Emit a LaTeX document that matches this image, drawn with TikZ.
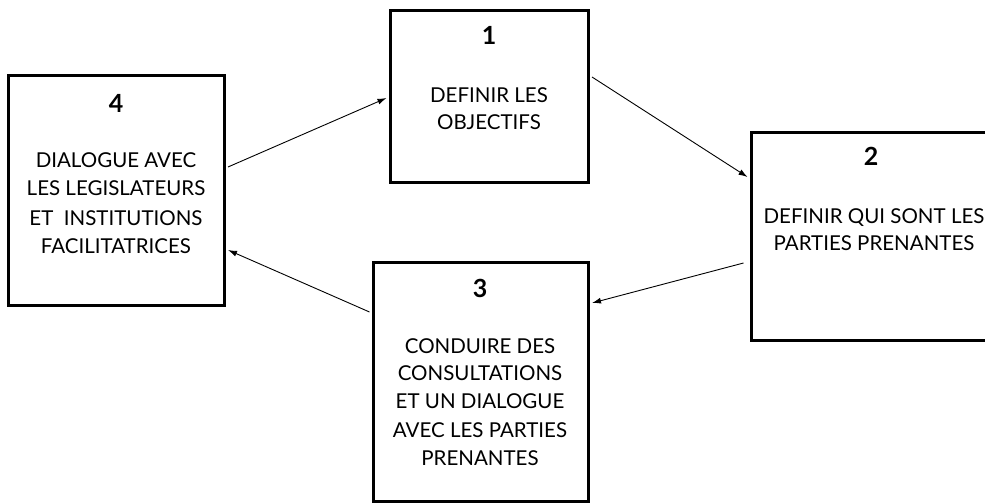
\documentclass[tikz,border=0pt]{standalone}
\usepackage{fontspec}
\setmainfont{Lato}
\usetikzlibrary{arrows.meta}
\begin{document}
\begin{tikzpicture}[x=1pt,y=-1pt,
  box/.style={draw=black, line width=3pt, fill=white, inner sep=0pt, rectangle},
  txt/.style={anchor=base, inner sep=0pt, font=\fontsize{20.5}{24}\selectfont, text=black},
  num/.style={anchor=base, inner sep=0pt, font=\fontsize{25}{29}\selectfont\bfseries, text=black},
  arr/.style={line width=0.9pt, -{Latex[length=9pt,width=6pt]}}]
\useasboundingbox (0,0) rectangle (985,503);
\clip (0,0) rectangle (985,503);
% boxes
\node[box, minimum width=216pt, minimum height=229pt] (b4) at (116,190.5) {};
\node[box, minimum width=198pt, minimum height=171pt] (b1) at (489,96.5) {};
\node[box, minimum width=239pt, minimum height=208pt] (b2) at (870.5,236) {};
\node[box, minimum width=215pt, minimum height=239pt] (b3) at (480.5,381.5) {};
% box 4
\node[num] (n4) at (116,112) {4};
\node[txt] (t4a) at (116,167) {DIALOGUE AVEC};
\node[txt] (t4b) at (116,195) {LES LEGISLATEURS};
\node[txt] (t4c) at (116,225) {ET~~INSTITUTIONS};
\node[txt] (t4d) at (116,253) {FACILITATRICES};
% box 1
\node[num] (n1) at (489,45) {1};
\node[txt] (t1a) at (489,102) {DEFINIR LES};
\node[txt] (t1b) at (489,129) {OBJECTIFS};
% box 2
\node[num] (n2) at (871,165) {2};
\node[txt] (t2a) at (874,223) {DEFINIR QUI SONT LES};
\node[txt] (t2b) at (874,250) {PARTIES PRENANTES};
% box 3
\node[num] (n3) at (480,297) {3};
\node[txt] (t3a) at (480,353) {CONDUIRE DES};
\node[txt] (t3b) at (480,380) {CONSULTATIONS};
\node[txt] (t3c) at (480,408) {ET UN DIALOGUE};
\node[txt] (t3d) at (480,437) {AVEC LES PARTIES};
\node[txt] (t3e) at (480,465) {PRENANTES};
% arrows
\draw[arr] ([xshift=2.5pt]b4.east |- 0,167) -- ([xshift=-2pt]b1.west |- 0,98);
\draw[arr] ([xshift=2.5pt]b1.east |- 0,77) -- ([xshift=-2pt]b2.west |- 0,177);
\draw[arr] ([xshift=-6pt]b2.west |- 0,263) -- ([xshift=2.5pt]b3.east |- 0,303);
\draw[arr] ([xshift=-2pt]b3.west |- 0,312) -- ([xshift=2.5pt]b4.east |- 0,250);
\end{tikzpicture}
\end{document}
